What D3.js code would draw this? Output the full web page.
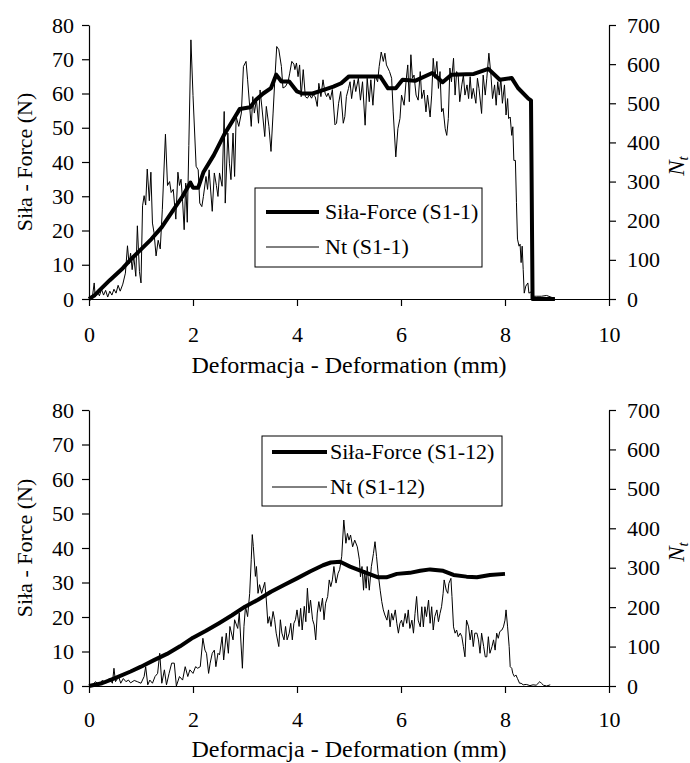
<!DOCTYPE html>
<html><head><meta charset="utf-8">
<script src="https://cdn.jsdelivr.net/npm/d3@7"></script>
<style>
html,body{margin:0;padding:0;background:#fff}
svg{display:block}
</style>
</head><body>
<script>
// ---------- data ----------
const xTicks = [0, 2, 4, 6, 8, 10];
const forceTicks = [0, 10, 20, 30, 40, 50, 60, 70, 80];
const ntTicks = [0, 100, 200, 300, 400, 500, 600, 700];
const xTitle = "Deformacja - Deformation (mm)";
const yTitle = "Siła - Force (N)";
const legend1 = ["Siła-Force (S1-1)", "Nt (S1-1)"];
const legend12 = ["Siła-Force (S1-12)", "Nt (S1-12)"];

const force1 = [[0,0],[0.1,1],[0.2,2.5],[0.4,5.5],[0.65,9],[0.8,11.5],[1.0,14.5],[1.2,17.5],[1.4,21],[1.6,25.5],[1.8,30],[1.95,34],[2.0,32.5],[2.1,32.5],[2.2,37],[2.4,42],[2.6,48],[2.8,53],[2.9,55.5],[3.1,56],[3.2,58],[3.35,60],[3.5,61.6],[3.6,65.5],[3.7,63.5],[3.85,63.5],[4.0,60.6],[4.1,60],[4.3,60],[4.5,61],[4.7,62],[4.85,63],[5.0,65],[5.6,65],[5.75,61.5],[5.9,61.5],[6.03,64],[6.27,63.7],[6.6,66],[6.8,63.3],[6.97,65.5],[7.4,65.7],[7.68,67.2],[7.9,64],[8.13,64.5],[8.25,61.6],[8.45,58.5],[8.5,58],[8.53,0],[8.96,0]];

const nt1 = [[0,0],[0.03,5],[0.07,10],[0.1,41],[0.12,5],[0.16,20],[0.2,8],[0.24,25],[0.28,10],[0.32,22],[0.36,5],[0.4,20],[0.44,10],[0.48,25],[0.52,15],[0.56,35],[0.6,20],[0.65,38],[0.7,66],[0.74,136],[0.77,90],[0.8,117],[0.83,75],[0.86,110],[0.9,58],[0.93,187],[0.97,70],[1.0,41],[1.03,238],[1.06,264],[1.09,240],[1.12,332],[1.16,251],[1.19,324],[1.22,194],[1.25,170],[1.29,110],[1.33,150],[1.37,128],[1.41,228],[1.47,421],[1.51,290],[1.55,300],[1.58,272],[1.62,280],[1.67,204],[1.71,324],[1.74,290],[1.77,306],[1.8,250],[1.83,177],[1.86,296],[1.89,196],[1.92,392],[1.96,662],[2.0,520],[2.06,339],[2.1,330],[2.13,245],[2.17,236],[2.2,262],[2.25,313],[2.28,280],[2.31,330],[2.37,224],[2.41,322],[2.45,290],[2.48,262],[2.51,322],[2.56,288],[2.6,479],[2.62,245],[2.67,424],[2.7,347],[2.73,305],[2.77,424],[2.8,313],[2.83,466],[2.88,441],[2.93,475],[2.97,594],[3.02,607],[3.05,560],[3.1,475],[3.12,441],[3.15,517],[3.18,475],[3.22,509],[3.26,449],[3.29,534],[3.33,483],[3.38,415],[3.41,492],[3.46,441],[3.5,377],[3.54,475],[3.57,551],[3.61,645],[3.65,637],[3.7,594],[3.73,539],[3.78,543],[3.83,556],[3.86,577],[3.9,607],[3.94,600],[3.96,586],[3.99,603],[4.02,568],[4.05,598],[4.08,517],[4.12,586],[4.16,517],[4.2,513],[4.24,522],[4.28,513],[4.31,522],[4.35,517],[4.39,492],[4.42,551],[4.46,517],[4.5,560],[4.54,526],[4.57,517],[4.6,526],[4.64,509],[4.68,535],[4.73,445],[4.76,449],[4.8,500],[4.84,530],[4.89,449],[4.92,466],[4.95,517],[4.99,538],[5.02,555],[5.05,512],[5.1,560],[5.13,530],[5.18,564],[5.22,508],[5.26,555],[5.31,444],[5.35,564],[5.39,504],[5.42,560],[5.46,495],[5.5,572],[5.55,555],[5.58,594],[5.62,631],[5.66,607],[5.69,628],[5.72,598],[5.78,581],[5.82,564],[5.85,478],[5.9,363],[5.94,435],[5.98,461],[6.01,521],[6.06,495],[6.1,560],[6.13,598],[6.16,504],[6.19,624],[6.22,564],[6.25,572],[6.29,521],[6.33,508],[6.37,581],[6.4,512],[6.44,534],[6.48,478],[6.51,521],[6.56,465],[6.59,521],[6.62,615],[6.65,564],[6.69,607],[6.72,538],[6.75,581],[6.78,478],[6.81,487],[6.85,435],[6.88,418],[6.91,461],[6.94,590],[6.97,555],[7.01,615],[7.04,521],[7.07,581],[7.1,572],[7.13,504],[7.17,547],[7.2,572],[7.23,521],[7.27,547],[7.3,512],[7.33,568],[7.36,512],[7.39,538],[7.44,500],[7.47,564],[7.5,538],[7.55,474],[7.58,572],[7.62,521],[7.65,564],[7.69,628],[7.73,572],[7.76,512],[7.8,547],[7.83,495],[7.86,555],[7.89,521],[7.92,564],[7.95,500],[7.99,547],[8.02,470],[8.05,512],[8.07,461],[8.1,465],[8.13,418],[8.15,440],[8.17,354],[8.2,354],[8.22,247],[8.24,153],[8.27,135],[8.29,140],[8.31,93],[8.33,135],[8.35,75],[8.37,15],[8.4,33],[8.44,41],[8.46,15],[8.5,18],[8.55,7],[8.61,7],[8.7,7],[8.8,9],[8.9,4],[8.96,0]];

const force12 = [[0,0],[0.25,0.8],[0.5,2.3],[0.8,4.2],[1.0,5.6],[1.25,7.5],[1.5,9.3],[1.75,11.5],[2.0,14],[2.25,16],[2.5,18.2],[2.75,20.5],[3.0,23],[3.25,25],[3.5,27.3],[3.75,29.3],[4.0,31.2],[4.25,33.2],[4.5,35],[4.65,35.8],[4.83,36],[5.02,34.6],[5.28,33.1],[5.56,31.5],[5.72,31.5],[5.92,32.5],[6.17,32.8],[6.37,33.4],[6.56,33.8],[6.81,33.4],[7.01,32.2],[7.26,31.7],[7.46,31.5],[7.71,32.2],[8.0,32.5]];

const nt12 = [[0,0],[0.06,3],[0.13,11],[0.19,3],[0.26,15],[0.32,7],[0.39,19],[0.45,7],[0.48,45],[0.51,11],[0.57,24],[0.61,7],[0.66,19],[0.71,11],[0.76,15],[0.8,8],[0.87,14],[0.93,11],[1.0,7],[1.06,24],[1.09,49],[1.13,3],[1.17,15],[1.22,7],[1.27,24],[1.32,32],[1.36,83],[1.4,7],[1.45,41],[1.49,3],[1.54,32],[1.59,58],[1.64,58],[1.68,0],[1.74,24],[1.8,15],[1.85,49],[1.9,24],[1.94,41],[2.0,32],[2.05,49],[2.09,45],[2.14,49],[2.19,121],[2.23,91],[2.26,83],[2.3,32],[2.33,58],[2.37,83],[2.41,91],[2.44,49],[2.48,83],[2.51,79],[2.56,125],[2.59,66],[2.64,134],[2.68,83],[2.71,151],[2.77,117],[2.8,168],[2.86,146],[2.89,185],[2.95,45],[2.98,151],[3.01,202],[3.05,176],[3.09,235],[3.12,320],[3.14,384],[3.16,354],[3.2,278],[3.22,303],[3.25,235],[3.28,257],[3.32,235],[3.38,263],[3.41,218],[3.44,159],[3.47,176],[3.5,151],[3.54,189],[3.57,168],[3.6,134],[3.65,100],[3.68,168],[3.71,134],[3.75,117],[3.78,151],[3.81,117],[3.85,134],[3.88,159],[3.91,117],[3.94,159],[3.97,168],[4.0,193],[4.04,151],[4.07,197],[4.1,142],[4.14,202],[4.17,163],[4.2,248],[4.23,185],[4.26,218],[4.3,168],[4.33,155],[4.36,117],[4.39,185],[4.42,214],[4.45,189],[4.49,223],[4.52,168],[4.55,210],[4.59,227],[4.62,269],[4.65,252],[4.68,269],[4.71,303],[4.75,261],[4.79,286],[4.82,295],[4.86,329],[4.9,421],[4.94,362],[4.97,387],[5.0,370],[5.03,383],[5.07,353],[5.11,370],[5.16,353],[5.2,320],[5.22,277],[5.25,303],[5.28,243],[5.3,294],[5.33,248],[5.35,303],[5.39,243],[5.43,303],[5.47,336],[5.5,366],[5.53,328],[5.56,286],[5.6,243],[5.63,214],[5.66,193],[5.69,180],[5.73,167],[5.76,193],[5.79,150],[5.82,184],[5.85,167],[5.89,193],[5.92,159],[5.95,134],[5.98,159],[6.01,167],[6.04,150],[6.08,184],[6.11,159],[6.14,193],[6.17,146],[6.21,167],[6.24,134],[6.27,184],[6.3,227],[6.33,167],[6.37,150],[6.4,201],[6.43,150],[6.46,201],[6.49,176],[6.53,218],[6.56,159],[6.59,201],[6.62,142],[6.65,176],[6.69,193],[6.72,163],[6.75,184],[6.78,201],[6.81,235],[6.83,269],[6.87,243],[6.9,235],[6.92,260],[6.96,273],[6.98,227],[7.01,150],[7.04,134],[7.07,142],[7.1,125],[7.14,134],[7.17,125],[7.2,100],[7.23,74],[7.26,167],[7.3,150],[7.33,117],[7.36,142],[7.39,100],[7.42,134],[7.46,134],[7.49,117],[7.52,83],[7.55,134],[7.59,100],[7.62,74],[7.65,74],[7.68,125],[7.71,83],[7.75,100],[7.78,117],[7.81,91],[7.84,134],[7.87,121],[7.9,138],[7.94,142],[7.97,150],[8.0,167],[8.02,193],[8.05,150],[8.08,100],[8.1,49],[8.13,45],[8.15,32],[8.18,24],[8.21,28],[8.24,19],[8.28,7],[8.31,7],[8.35,3],[8.41,4],[8.48,1],[8.54,3],[8.6,2],[8.67,11],[8.7,7],[8.74,2],[8.8,0],[8.87,3]];

// ---------- drawing ----------
const W = 690, H = 763;
const FONT = "Liberation Serif, DejaVu Serif, Noto Serif, FreeSerif, Nimbus Roman, Times, serif";
const svg = d3.select("body").append("svg").attr("width", W).attr("height", H)
  .attr("font-family", FONT);

function panel(top, bottom, force, nt, legendText, leg, lay) {
  const x = d3.scaleLinear().domain([0, 10]).range([89, 609]);
  const yL = d3.scaleLinear().domain([0, 80]).range([bottom, top]);
  const yR = d3.scaleLinear().domain([0, 700]).range([bottom, top]);
  const g = svg.append("g");

  const styleAxis = sel => {
    sel.attr("font-family", FONT).attr("font-size", 22);
    sel.select(".domain").attr("stroke", "#000").attr("stroke-width", 1.2);
    sel.selectAll(".tick line").attr("stroke", "#000").attr("stroke-width", 1.2);
    sel.selectAll(".tick text").attr("fill", "#000").attr("font-family", FONT).attr("font-size", 22);
  };

  g.append("g").attr("transform", `translate(0,${bottom})`)
    .call(d3.axisBottom(x).tickValues(xTicks).tickSize(7).tickPadding(lay.xPad).tickSizeOuter(0))
    .call(styleAxis);
  g.append("g").attr("transform", `translate(89,0)`)
    .call(d3.axisLeft(yL).tickValues(forceTicks).tickSize(7).tickPadding(8).tickSizeOuter(0))
    .call(styleAxis);
  g.append("g").attr("transform", `translate(609,0)`)
    .call(d3.axisRight(yR).tickValues(ntTicks).tickSize(7).tickPadding(11).tickSizeOuter(0))
    .call(styleAxis);

  const lnN = d3.line().x(d => x(d[0])).y(d => yR(d[1]));
  const lnF = d3.line().x(d => x(d[0])).y(d => yL(d[1]));
  g.append("path").datum(nt).attr("d", lnN).attr("fill", "none").attr("stroke", "#000").attr("stroke-width", 1);
  g.append("path").datum(force).attr("d", lnF).attr("fill", "none").attr("stroke", "#000")
    .attr("stroke-width", 4).attr("stroke-linejoin", "round");

  // axis titles
  g.append("text").attr("x", x(5)).attr("y", bottom + lay.titleOff).attr("text-anchor", "middle")
    .attr("font-family", FONT).attr("font-size", 24).text(xTitle);
  g.append("text").attr("transform", `translate(32,${(top + bottom) / 2}) rotate(-90)`)
    .attr("text-anchor", "middle").attr("font-family", FONT).attr("font-size", 22).text(yTitle);
  const nt_t = g.append("text").attr("transform", `translate(684,${(top + bottom) / 2 + 4}) rotate(-90)`)
    .attr("text-anchor", "middle").attr("font-family", FONT).attr("font-size", 23).attr("font-style", "italic");
  nt_t.append("tspan").text("N");
  nt_t.append("tspan").attr("dy", 4).attr("font-size", 15).text("t");

  // legend
  g.append("rect").attr("x", leg.x0).attr("y", leg.y0).attr("width", leg.x1 - leg.x0).attr("height", leg.y1 - leg.y0)
    .attr("fill", "#fff").attr("stroke", "#000").attr("stroke-width", 1);
  const rows = [{ w: 4, y: leg.r1 }, { w: 1, y: leg.r2 }];
  rows.forEach((r, i) => {
    g.append("line").attr("x1", leg.lx0).attr("x2", leg.lx1).attr("y1", r.y).attr("y2", r.y)
      .attr("stroke", "#000").attr("stroke-width", r.w);
    g.append("text").attr("x", leg.tx).attr("y", r.y + 7).attr("font-family", FONT).attr("font-size", 22).text(legendText[i]);
  });
}

panel(25, 299, force1, nt1, legend1,
  { x0: 255, x1: 482, y0: 188, y1: 267, r1: 212, r2: 247, lx0: 266, lx1: 319, tx: 325 },
  { xPad: 20, titleOff: 74 });
panel(410, 686, force12, nt12, legend12,
  { x0: 262, x1: 502, y0: 436, y1: 506, r1: 452, r2: 487, lx0: 272, lx1: 327, tx: 330 },
  { xPad: 18, titleOff: 71 });
</script>
</body></html>
